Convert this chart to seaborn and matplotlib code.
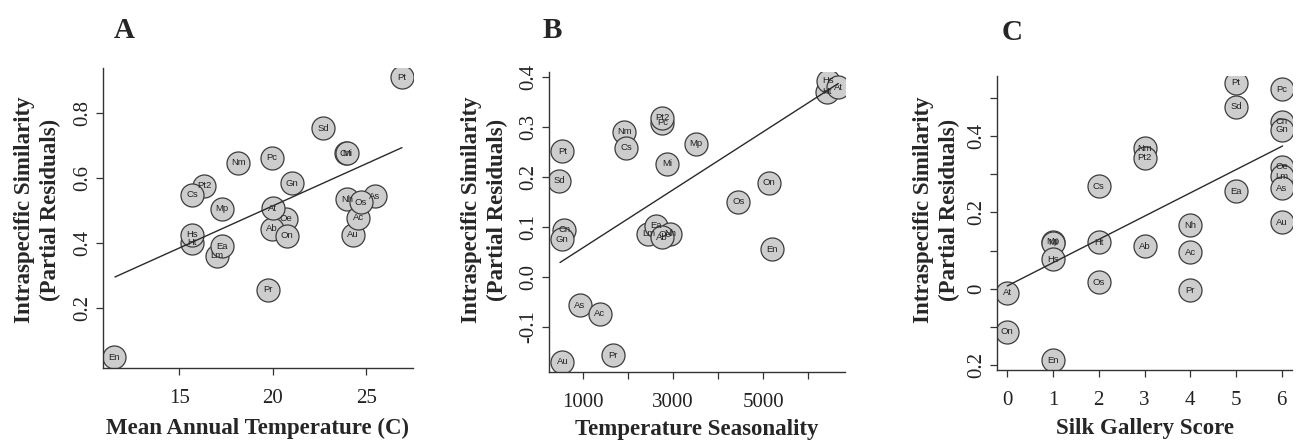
"""
Partial residual plots: intraspecific similarity vs. temperature, seasonality, silk gallery score.
"""

import numpy as np
import pandas as pd
import matplotlib.pyplot as plt
import seaborn as sns

# ── data ──────────────────────────────────────────────────────────────────────
species = ["Pt", "Sd", "Pc", "Cn", "Gn", "Nm", "Pt2", "Oe", "Lm", "As", "Cs", "Ea", "Au",
           "Nh", "Mp", "Mi", "Ht", "Hs", "Ab", "Ac", "Os", "Pr", "At", "On", "En"]

temp_a = [26.9, 22.69, 19.96, 23.9, 21.0, 18.15, 16.33, 20.69, 16.99, 25.44, 15.69, 17.30, 24.29,
          23.97, 17.26, 23.98, 15.68, 15.69, 19.93, 24.57, 24.70, 19.72, 20.0, 20.73, 11.48]
resid_a = [0.910, 0.752, 0.662, 0.676, 0.583, 0.647, 0.575, 0.474, 0.360, 0.544, 0.548, 0.389, 0.425,
           0.534, 0.505, 0.675, 0.401, 0.425, 0.443, 0.477, 0.525, 0.255, 0.507, 0.422, 0.048]

season_b = [549, 476, 2765, 594, 549, 1923, 2765, 2824, 2455, 941, 1960, 2625, 549,
            2935, 3504, 2876, 6406, 6428, 2750, 1384, 4449, 1679, 6665, 5128, 5202]
resid_b = [0.252, 0.193, 0.309, 0.095, 0.076, 0.291, 0.319, 0.085, 0.086, -0.056, 0.258, 0.103, -0.170,
           0.086, 0.266, 0.226, 0.370, 0.393, 0.080, -0.073, 0.150, -0.156, 0.380, 0.189, 0.056]

silk_c = [5, 5, 6, 6, 6, 3, 3, 6, 6, 6, 2, 5, 6,
          4, 1, 1, 2, 1, 3, 4, 2, 4, 0, 0, 1]
resid_c = [0.539, 0.477, 0.522, 0.437, 0.416, 0.368, 0.343, 0.320, 0.295, 0.263, 0.268, 0.256, 0.174,
           0.166, 0.124, 0.121, 0.122, 0.078, 0.112, 0.096, 0.017, -0.004, -0.010, -0.112, -0.186]

# fitted lines (end points as drawn)
fit_a_x, fit_a_y = [11.55, 26.9], [0.295, 0.693]
fit_b_x, fit_b_y = [497, 6665], [0.029, 0.387]
fit_c_x, fit_c_y = [0, 6.02], [0.008, 0.374]

ylabel = "Intraspecific Similarity\n(Partial Residuals)"

sns.set_style("ticks")
plt.rcParams["font.family"] = ["Liberation Serif", "DejaVu Serif"]

fig = plt.figure(figsize=(12.97, 4.41), dpi=100)
W, H = 1297, 441


def box(l, t, r, b):
    return [l / W, 1 - b / H, (r - l) / W, (b - t) / H]


panels = [
    dict(rect=box(103, 68, 413, 368), x=temp_a, y=resid_a, fx=fit_a_x, fy=fit_a_y,
         xlim=(10.91, 27.49), ylim=(0.015, 0.938),
         xticks=[15, 20, 25], xlabels=["15", "20", "25"],
         yticks=[0.2, 0.4, 0.6, 0.8], ylabels=["0.2", "0.4", "0.6", "0.8"],
         xlabel="Mean Annual Temperature (C)", letter="A", lx=124, ly=31, ylx=38, lpad=7),
    dict(rect=box(549, 72, 845, 372), x=season_b, y=resid_b, fx=fit_b_x, fy=fit_b_y,
         xlim=(253, 6814), ylim=(-0.19, 0.41),
         xticks=[1000, 2000, 3000, 4000, 5000, 6000],
         xlabels=["1000", "", "3000", "", "5000", ""],
         yticks=[-0.1, 0.0, 0.1, 0.2, 0.3, 0.4],
         ylabels=["-0.1", "0.0", "0.1", "0.2", "0.3", "0.4"],
         xlabel="Temperature Seasonality", letter="B", lx=552, ly=30, ylx=485, lpad=5),
    dict(rect=box(997, 76, 1292, 370), x=silk_c, y=resid_c, fx=fit_c_x, fy=fit_c_y,
         xlim=(-0.226, 6.225), ylim=(-0.212, 0.557),
         xticks=[0, 1, 2, 3, 4, 5, 6], xlabels=[str(i) for i in range(7)],
         yticks=[-0.2, -0.1, 0.0, 0.1, 0.2, 0.3, 0.4, 0.5],
         ylabels=["0.2", "", "0", "", "0.2", "", "0.4", ""],
         xlabel="Silk Gallery Score", letter="C", lx=1012, ly=32, ylx=937, lpad=6),
]

for p in panels:
    ax = fig.add_axes(p["rect"])
    df = pd.DataFrame({"sp": species, "x": p["x"], "y": p["y"]})
    sns.scatterplot(data=df, x="x", y="y", ax=ax, s=275, color="#cdcdcd",
                    edgecolor="#3c3c3c", linewidth=0.9, legend=False, zorder=2)
    for _, r in df.iterrows():
        ax.text(r["x"], r["y"], r["sp"], ha="center", va="center", fontsize=6.8,
                family=["Liberation Sans", "DejaVu Sans"], color="#222222", zorder=3,
                clip_on=True)
    sns.lineplot(x=p["fx"], y=p["fy"], ax=ax, color="#2a2a2a", linewidth=1.0, zorder=4)

    ax.set_xlim(*p["xlim"])
    ax.set_ylim(*p["ylim"])
    ax.set_xticks(p["xticks"])
    ax.set_xticklabels(p["xlabels"], fontsize=15)
    ax.set_yticks(p["yticks"])
    ax.set_yticklabels(p["ylabels"], fontsize=15, rotation=90, va="center")
    ax.tick_params(axis="both", direction="out", length=5, width=0.9, color="#333333",
                   labelcolor="#222222")
    ax.tick_params(axis="x", pad=10)
    ax.tick_params(axis="y", pad=3)
    sns.despine(ax=ax)
    for s in ("left", "bottom"):
        ax.spines[s].set_color("#333333")
        ax.spines[s].set_linewidth(1.0)
    ax.set_xlabel(p["xlabel"], fontsize=16.5, fontweight="bold", labelpad=p["lpad"])
    ax.set_ylabel("")

    fig.text(p["ylx"] / W, 1 - 210 / H, ylabel, rotation=90, ha="center", va="center",
             fontsize=16.5, fontweight="bold", linespacing=1.3)
    fig.text(p["lx"] / W, 1 - p["ly"] / H, p["letter"], ha="center", va="center",
             fontsize=21, fontweight="bold")

fig.savefig("out.png", dpi=100)
